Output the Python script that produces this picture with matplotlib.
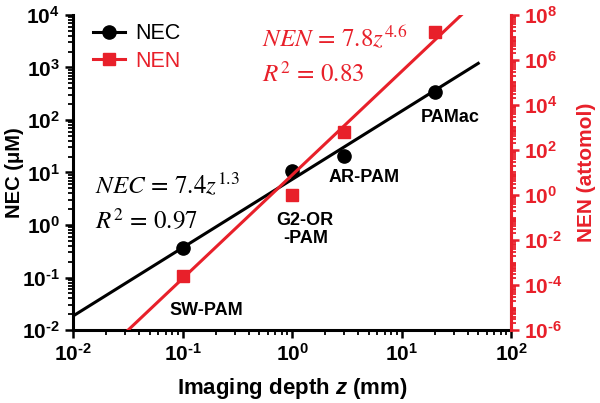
import matplotlib
matplotlib.use("Agg")
import matplotlib.pyplot as plt
import numpy as np
from matplotlib.ticker import LogLocator, FuncFormatter, NullFormatter

# data
depth = [0.1, 1, 3, 20]                     # imaging depth z (mm)
nec = [0.37, 10.5, 21, 340]                 # NEC (uM)
nen = [2.5e-4, 1.0, 650, 1.7e7]             # NEN (attomol)
names = ["SW-PAM", "G2-OR\n-PAM", "AR-PAM", "PAMac"]
nec_fit = (7.4, 1.3, 0.97)
nen_fit = (7.8, 4.6, 0.83)

RED = "#e8202a"

plt.rcParams["font.family"] = ["Liberation Sans", "DejaVu Sans"]
plt.rcParams["mathtext.fontset"] = "custom"
plt.rcParams["mathtext.rm"] = "Liberation Sans:bold"
plt.rcParams["mathtext.bf"] = "Liberation Sans:bold"
plt.rcParams["mathtext.it"] = "Liberation Sans:bold:italic"

fig = plt.figure(figsize=(6.0, 4.03), dpi=100)
ax = fig.add_axes([0.122, 0.181, 0.730, 0.782])
ax2 = ax.twinx()

ax.set_xscale("log")
ax.set_yscale("log")
ax2.set_yscale("log")
ax.set_xlim(1e-2, 1e2)
ax.set_ylim(1e-2, 1e4)
ax2.set_ylim(1e-6, 1e8)

# fitted power laws
z1 = np.logspace(-2, np.log10(50), 50)
ax.plot(z1, nec_fit[0] * z1 ** nec_fit[1], color="black", lw=2.2, zorder=2)
z2 = np.logspace(-2, 2, 50)
ax2.plot(z2, nen_fit[0] * z2 ** nen_fit[1], color=RED, lw=2.2, zorder=2)

ax.plot(depth, nec, "o", color="black", ms=9.5, zorder=3)
ax2.plot(depth, nen, "s", color=RED, ms=9, zorder=3)

leg_nec, = ax.plot([], [], "-o", color="black", lw=2.2, ms=9.5)
leg_nen, = ax.plot([], [], "-s", color=RED, lw=2.2, ms=9)
leg = ax2.legend([leg_nec, leg_nen], ["NEC", "NEN"], loc="upper left",
                 bbox_to_anchor=(0.0, 1.035), frameon=False, fontsize=15.5,
                 handlelength=1.5, handletextpad=0.5, labelspacing=0.3)
for t, c in zip(leg.get_texts(), ["black", RED]):
    t.set_color(c)

# equations
ax.text(0.05, 0.46, r"$NEC\,=\,7.4z^{1.3}$", transform=ax.transAxes,
        fontsize=18, math_fontfamily="stix", va="center")
ax.text(0.05, 0.349, r"$R^{2}\,=\,0.97$", transform=ax.transAxes,
        fontsize=18, math_fontfamily="stix", va="center")
ax.text(0.43, 0.927, r"$NEN\,=\,7.8z^{4.6}$", transform=ax.transAxes,
        fontsize=18, math_fontfamily="stix", va="center", color=RED)
ax.text(0.43, 0.81, r"$R^{2}\,=\,0.83$", transform=ax.transAxes,
        fontsize=18, math_fontfamily="stix", va="center", color=RED)

# technique labels
label_pos = [(0.304, 0.063), (0.53, 0.32), (0.664, 0.483), (0.861, 0.676)]
for name, (px, py) in zip(names, label_pos):
    ax.text(px, py, name, transform=ax.transAxes, ha="center", va="center",
            fontsize=13, fontweight="bold", linespacing=1.05)

# axes styling
def pow_fmt(v, pos):
    e = int(round(np.log10(v)))
    if e < 0:
        return r"$10^{\text{-}%d}$" % (-e)
    return r"$10^{%d}$" % e

ax.xaxis.set_major_locator(LogLocator(base=10, numticks=10))
ax.xaxis.set_minor_locator(LogLocator(base=10, subs=np.arange(2, 10), numticks=50))
ax.yaxis.set_major_locator(LogLocator(base=10, numticks=10))
ax.yaxis.set_minor_locator(LogLocator(base=10, subs=np.arange(2, 10), numticks=50))
ax2.yaxis.set_major_locator(LogLocator(base=100, numticks=20))
ax2.yaxis.set_minor_locator(LogLocator(base=10, subs=np.arange(1, 10), numticks=50))
for a in (ax.xaxis, ax.yaxis, ax2.yaxis):
    a.set_major_formatter(FuncFormatter(pow_fmt))
    a.set_minor_formatter(NullFormatter())

ax.tick_params(which="major", length=6, width=1.8, labelsize=15, direction="out")
ax.tick_params(which="minor", length=3.5, width=1.3, direction="out")
ax2.tick_params(which="major", length=6, width=1.8, labelsize=15, direction="out",
                colors=RED)
ax2.tick_params(which="minor", length=3.5, width=1.3, direction="out", colors=RED)

for a in (ax, ax2):
    a.spines["top"].set_visible(False)
    for s in a.spines.values():
        s.set_linewidth(2.2)
ax2.spines["right"].set_color(RED)
ax2.spines["left"].set_visible(False)
ax2.spines["bottom"].set_visible(False)

ax.set_xlabel(r"Imaging depth $z$ (mm)", fontsize=16, fontweight="bold", labelpad=8)
ax.set_ylabel("NEC (μM)", fontsize=14.5, fontweight="bold")
ax.yaxis.set_label_coords(-0.113, 0.5)
ax2.set_ylabel("NEN (attomol)", fontsize=15, fontweight="bold", color=RED)
ax2.yaxis.set_label_coords(1.151, 0.5)

fig.savefig("out.png", dpi=100)
